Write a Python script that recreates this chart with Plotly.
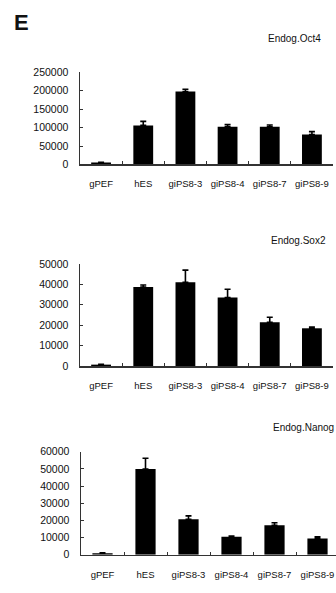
import plotly.graph_objects as go

categories = ["gPEF", "hES", "giPS8-3", "giPS8-4", "giPS8-7", "giPS8-9"]

oct4_values = [5000, 106000, 198000, 102000, 102000, 81000]
oct4_errors = [1000, 11000, 6000, 6000, 5000, 8000]

sox2_values = [700, 38700, 41000, 33600, 21400, 18500]
sox2_errors = [200, 1000, 6000, 4000, 2500, 600]

nanog_values = [800, 50000, 20600, 10500, 17100, 9500]
nanog_errors = [300, 6200, 2000, 300, 1500, 900]

titles = ["Endog.Oct4", "Endog.Sox2", "Endog.Nanog"]
y_ticks = [
    [0, 50000, 100000, 150000, 200000, 250000],
    [0, 10000, 20000, 30000, 40000, 50000],
    [0, 10000, 20000, 30000, 40000, 50000, 60000],
]

W, H = 336, 593
FONT = "Liberation Sans, Arial, sans-serif"
AX = "#333333"
TXT = "#111111"

panels = [
    dict(vals=oct4_values, errs=oct4_errors, ytop=67.7, ybot=161.7, x0=80, x1=333, xr=5.5),
    dict(vals=sox2_values, errs=sox2_errors, ytop=263.3, ybot=367.5, x0=80, x1=333, xr=5.5),
    dict(vals=nanog_values, errs=nanog_errors, ytop=455.0, ybot=560.0, x0=81, x1=336, xr=5.43),
]

fig = go.Figure()
layout = {}
for i, p in enumerate(panels):
    n = "" if i == 0 else str(i + 1)
    fig.add_trace(go.Bar(
        x=categories, y=p["vals"],
        xaxis="x" + n, yaxis="y" + n,
        marker=dict(color="#000000", line=dict(width=0)),
        error_y=dict(type="data", array=p["errs"], arrayminus=[0] * len(p["errs"]),
                     symmetric=False, color="#000000", thickness=1.6, width=3),
        showlegend=False,
        hoverinfo="skip",
    ))
    layout["xaxis" + n] = dict(
        domain=[p["x0"] / W, p["x1"] / W], anchor="y" + n,
        type="category", range=[-0.5, p["xr"]],
        showline=True, linecolor=AX, linewidth=1.5,
        ticks="inside", ticklen=3, tickcolor=AX, tickwidth=1,
        tickson="boundaries", showgrid=False, zeroline=False,
        tickangle=0,
        tickfont=dict(family=FONT, size=9.5, color=TXT),
        ticklabelstandoff=10,
    )
    ymax = y_ticks[i][-1]
    layout["yaxis" + n] = dict(
        domain=[(H - p["ybot"]) / H, (H - p["ytop"]) / H], anchor="x" + n,
        range=[0, ymax], tickvals=y_ticks[i], ticktext=[str(v) for v in y_ticks[i]],
        showline=True, linecolor=AX, linewidth=1.5,
        ticks="inside", ticklen=3, tickcolor=AX, tickwidth=1,
        showgrid=False, zeroline=False,
        tickfont=dict(family=FONT, size=10.5, color=TXT),
        ticklabelstandoff=8,
    )

annotations = [
    dict(text="<b>E</b>", x=12 / W, y=1 - 2 / H, xref="paper", yref="paper",
         xanchor="left", yanchor="top", showarrow=False,
         font=dict(family=FONT, size=22, color="#111111")),
]
title_pos = [(323, 33), (328, 239), (340, 430)]
for t, (tx, ty) in zip(titles, title_pos):
    annotations.append(dict(
        text=t, x=min(tx, W) / W, y=1 - ty / H, xref="paper", yref="paper",
        xanchor="right", yanchor="middle", showarrow=False,
        font=dict(family=FONT, size=10, color=TXT)))

fig.update_layout(
    width=W, height=H,
    margin=dict(l=0, r=0, t=0, b=0),
    paper_bgcolor="white", plot_bgcolor="white",
    bargap=0.53,
    annotations=annotations,
    **layout,
)

fig.write_html(
    "out.html",
    config={"displayModeBar": False, "staticPlot": True},
    post_script="document.body.style.margin='0';document.body.style.overflow='hidden';",
)
